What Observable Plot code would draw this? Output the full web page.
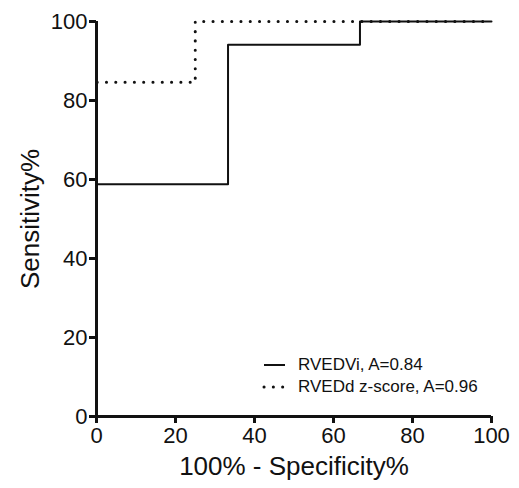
<!DOCTYPE html>
<html>
<head>
<meta charset="utf-8">
<script src="https://cdn.jsdelivr.net/npm/d3@7"></script>
<script src="https://cdn.jsdelivr.net/npm/@observablehq/plot@0.6"></script>
<style>
  html, body { margin: 0; padding: 0; background: #fff; }
  #wrap { position: relative; width: 519px; height: 488px; font-family: "Liberation Sans", Arial, sans-serif; }
  #legend { position: absolute; left: 262px; top: 354px; font-size: 17px; color: #111; line-height: 22px; }
  #legend .row { display: flex; align-items: center; }
  #legend svg { margin-right: 12px; }
</style>
</head>
<body>
<div id="wrap"></div>
<script>
const seriesNames = ["RVEDVi, A=0.84", "RVEDd z-score, A=0.96"];
const rvedviX = [0, 0, 33.3, 66.7, 100];
const rvedviY = [0, 58.8, 94.1, 100, 100];
const rveddX = [0, 0, 25, 100];
const rveddY = [0, 84.6, 100, 100];
const xTicks = [0, 20, 40, 60, 80, 100];
const yTicks = [0, 20, 40, 60, 80, 100];
const xTitle = "100% - Specificity%";
const yTitle = "Sensitivity%";

const solid = rvedviX.map((x, i) => ({x, y: rvedviY[i]}));
const dotted = rveddX.map((x, i) => ({x, y: rveddY[i]}));

const chart = Plot.plot({
  width: 519,
  height: 488,
  marginLeft: 96,
  marginRight: 28,
  marginTop: 21,
  marginBottom: 72,
  style: {fontFamily: "Liberation Sans, Arial, sans-serif", color: "#111", background: "#fff"},
  x: {domain: [0, 100]},
  y: {domain: [0, 100]},
  marks: [
    Plot.line(dotted, {x: "x", y: "y", curve: "step-after", stroke: "#111", strokeWidth: 3, strokeDasharray: "0.1,9.2", strokeLinecap: "round"}),
    Plot.line(solid, {x: "x", y: "y", curve: "step-after", stroke: "#111", strokeWidth: 2}),
    Plot.axisX({ticks: xTicks, tickSize: 7, tickPadding: 4, fontSize: 22, strokeWidth: 3, label: null, tickFormat: d => String(d)}),
    Plot.axisY({ticks: yTicks, tickSize: 7, tickPadding: 2, fontSize: 22, strokeWidth: 3, label: null, tickFormat: d => String(d)}),
    Plot.ruleY([0], {stroke: "#111", strokeWidth: 3}),
    Plot.ruleX([0], {stroke: "#111", strokeWidth: 3}),
    Plot.text([xTitle], {text: d => d, frameAnchor: "bottom", dy: 58, fontSize: 26, fill: "#111"}),
    Plot.text([yTitle], {text: d => d, frameAnchor: "left", textAnchor: "middle", dx: -66, rotate: -90, fontSize: 26, fill: "#111"})
  ]
});
const wrap = document.getElementById("wrap");
wrap.appendChild(chart);

const legend = document.createElement("div");
legend.id = "legend";
legend.innerHTML = seriesNames.map((name, i) => `
  <div class="row">
    <svg width="24" height="10">${i === 0
      ? '<line x1="2" x2="23" y1="5" y2="5" stroke="#111" stroke-width="2"/>'
      : '<line x1="2" x2="23" y1="5" y2="5" stroke="#111" stroke-width="3" stroke-dasharray="0.1,9.2" stroke-linecap="round"/>'}</svg>
    <span>${name}</span>
  </div>`).join("");
wrap.appendChild(legend);
</script>
</body>
</html>
